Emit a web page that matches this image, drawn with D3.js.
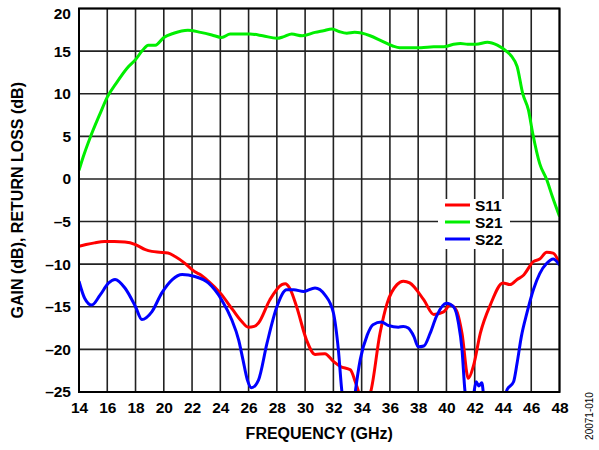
<!DOCTYPE html>
<html>
<head>
<meta charset="utf-8">
<script src="https://cdn.jsdelivr.net/npm/d3@7"></script>
<style>
  body { margin: 0; background: #fff; }
  svg { font-family: "Liberation Sans", Arial, sans-serif; }
</style>
</head>
<body>
<svg id="chart" width="599" height="450"></svg>
<script>
// values (frequency in GHz, level in dB)
const xTicks = [14, 16, 18, 20, 22, 24, 26, 28, 30, 32, 34, 36, 38, 40, 42, 44, 46, 48];
const yTicks = [20, 15, 10, 5, 0, -5, -10, -15, -20, -25];

const s21Freq = [14, 14.3, 14.8, 15.5, 16, 16.7, 17.4, 18, 18.5, 18.9, 19.4, 20, 20.7, 21.7, 22.6, 23.4, 24.1, 24.7, 25.3, 26.1, 27, 28, 28.5, 29.05, 29.8, 30.7, 31.3, 31.9, 32.4, 32.95, 33.5, 34.6, 35.4, 36.2, 36.7, 37.4, 38.2, 39.1, 39.8, 40.5, 41, 41.5, 42.1, 42.9, 43.6, 44.3, 44.6, 45, 45.4, 45.8, 46.1, 46.6, 47.1, 47.5, 48];
const s21Vals = [1.0, 2.6, 4.9, 7.7, 9.6, 11.4, 13.0, 14.0, 15.1, 15.7, 15.7, 16.6, 17.1, 17.45, 17.2, 16.9, 16.6, 17.0, 17.0, 17.0, 16.8, 16.5, 16.7, 17.0, 16.8, 17.2, 17.4, 17.6, 17.3, 17.1, 17.2, 16.8, 16.2, 15.6, 15.4, 15.4, 15.4, 15.5, 15.5, 15.8, 15.9, 15.8, 15.8, 16.05, 15.7, 14.9, 14.4, 13.2, 10.0, 8.1, 5.4, 1.8, -0.1, -2.1, -4.4];

const s11Freq = [14, 14.5, 15.1, 15.8, 16.5, 17.25, 18, 18.7, 19.15, 19.7, 20.3, 20.8, 21.5, 22.2, 22.6, 23.15, 24, 24.9, 25.5, 25.98, 26.4, 26.7, 27.5, 28.35, 28.6, 28.9, 29.4, 30.1, 30.7, 31.4, 32, 32.5, 33.2, 33.55, 33.8, 34, 34.6, 35.3, 35.8, 36.5, 36.95, 37.4, 38.4, 39.1, 39.8, 40.25, 40.7, 41.1, 41.55, 41.9, 42.4, 43.1, 44, 44.5, 45, 45.45, 46.15, 46.6, 47.1, 47.55, 48];
const s11Vals = [-7.9, -7.7, -7.5, -7.35, -7.35, -7.4, -7.7, -8.3, -8.5, -8.6, -8.7, -9.1, -9.9, -10.9, -11.25, -12.0, -13.4, -15.4, -16.7, -17.4, -17.3, -16.9, -14.2, -12.4, -12.3, -12.8, -15.0, -18.9, -20.6, -20.5, -21.4, -22.0, -22.4, -23.8, -25.1, -26.5, -25.2, -18.1, -14.6, -12.4, -12.0, -12.2, -14.2, -15.9, -15.6, -14.8, -15.4, -18.1, -23.4, -22.0, -18.1, -14.8, -12.2, -12.4, -11.8, -11.3, -9.7, -9.4, -8.6, -8.7, -9.9];

const s22Freq = [14, 14.4, 14.9, 15.5, 16.1, 16.55, 17.25, 18, 18.45, 19.15, 19.85, 20.6, 21.3, 22.2, 23.15, 24.1, 24.8, 25.3, 25.6, 25.9, 26.2, 26.7, 27.3, 28, 28.7, 29.2, 29.9, 30.7, 31.4, 32, 32.35, 32.6, 32.8, 33.4, 33.55, 33.9, 34.4, 34.8, 35.4, 35.9, 36.6, 36.95, 37.3, 37.7, 38, 38.4, 38.85, 39.3, 40, 40.5, 40.85, 41.1, 41.3, 41.5, 41.9, 42.1, 42.3, 42.5, 42.7, 44, 44.3, 44.75, 45, 45.3, 45.7, 46.15, 46.6, 47.1, 47.55, 48];
const s22Vals = [-12.0, -14.0, -14.8, -13.6, -12.2, -11.8, -12.8, -15.0, -16.5, -15.6, -13.4, -11.8, -11.2, -11.45, -12.2, -14.2, -16.5, -18.9, -21.2, -23.5, -24.5, -23.6, -19.3, -15.0, -13.0, -13.0, -13.2, -12.8, -13.6, -15.7, -20.0, -24.9, -27, -27, -25.0, -21.2, -18.3, -17.1, -16.8, -17.2, -17.4, -17.3, -17.5, -18.5, -19.7, -19.6, -18.1, -16.1, -14.6, -15.0, -16.9, -20.0, -24.7, -27, -25.5, -23.8, -24.3, -23.9, -26, -26, -24.7, -23.8, -21.6, -18.5, -15.7, -13.0, -11.1, -9.9, -9.4, -10.1];

const seriesNames = ["S11", "S21", "S22"];
const seriesColors = ["#ff0000", "#00ee00", "#0000ff"];

const svg = d3.select("#chart");
const plotLeft = 79, plotRight = 559.5, plotTop = 8.5, plotBottom = 392;

const x = d3.scaleLinear().domain([14, 48]).range([plotLeft, plotRight]);
const y = d3.scaleLinear().domain([-25, 20]).range([plotBottom, plotTop]);

// grid
svg.append("g").selectAll("line").data(xTicks).enter().append("line")
  .attr("x1", d => x(d)).attr("x2", d => x(d))
  .attr("y1", plotTop).attr("y2", plotBottom)
  .attr("stroke", "#222").attr("stroke-width", 1.6);
svg.append("g").selectAll("line").data(yTicks).enter().append("line")
  .attr("x1", plotLeft).attr("x2", plotRight)
  .attr("y1", d => y(d)).attr("y2", d => y(d))
  .attr("stroke", "#222").attr("stroke-width", 1.6);

// legend backdrop hides the grid behind it
svg.append("rect").attr("x", 438).attr("y", 199).attr("width", 72).attr("height", 50).attr("fill", "#fff");

// curves, clipped to the plot box
svg.append("clipPath").attr("id", "plotclip").append("rect")
  .attr("x", plotLeft).attr("y", plotTop).attr("width", plotRight - plotLeft).attr("height", plotBottom - plotTop);

const line = d3.line().x(d => x(d[0])).y(d => y(d[1])).curve(d3.curveMonotoneX);
const series = [
  d3.zip(s11Freq, s11Vals),
  d3.zip(s21Freq, s21Vals),
  d3.zip(s22Freq, s22Vals)
];
const plot = svg.append("g").attr("clip-path", "url(#plotclip)");
series.forEach((pts, i) => {
  plot.append("path").datum(pts)
    .attr("d", line)
    .attr("fill", "none")
    .attr("stroke", seriesColors[i])
    .attr("stroke-width", 3)
    .attr("stroke-linejoin", "round");
});

// frame
svg.append("rect").attr("x", plotLeft).attr("y", plotTop)
  .attr("width", plotRight - plotLeft).attr("height", plotBottom - plotTop)
  .attr("fill", "none").attr("stroke", "#000").attr("stroke-width", 2);

// axes labels
const xAxis = d3.axisBottom(x).tickValues(xTicks).tickSize(0).tickPadding(10);
const gx = svg.append("g").attr("transform", `translate(0,${plotBottom})`).call(xAxis);
gx.select(".domain").remove();
gx.selectAll("text").attr("font-size", 15.5).attr("font-weight", "bold")
  .attr("font-family", "Liberation Sans, Arial, sans-serif").attr("fill", "#000");

const yAxis = d3.axisLeft(y).tickValues(yTicks).tickSize(0).tickPadding(8)
  .tickFormat(d => d < 0 ? "\u2013" + Math.abs(d) : d);
const gy = svg.append("g").attr("transform", `translate(${plotLeft},0)`).call(yAxis);
gy.select(".domain").remove();
gy.selectAll("text").attr("font-size", 15.5).attr("font-weight", "bold")
  .attr("font-family", "Liberation Sans, Arial, sans-serif").attr("fill", "#000");
// the top label sits a little below its grid line in the reference
gy.selectAll(".tick").filter(d => d === 20).select("text").attr("dy", "0.62em");

svg.append("text").attr("x", (plotLeft + plotRight) / 2).attr("y", 439)
  .attr("text-anchor", "middle").attr("font-size", 16).attr("font-weight", "bold")
  .text("FREQUENCY (GHz)");
svg.append("text").attr("transform", `translate(23,${(plotTop + plotBottom) / 2}) rotate(-90)`)
  .attr("text-anchor", "middle").attr("font-size", 16).attr("font-weight", "bold")
  .text("GAIN (dB), RETURN LOSS (dB)");
svg.append("text").attr("transform", "translate(593,416) rotate(-90)")
  .attr("text-anchor", "middle").attr("font-size", 10)
  .text("20071-010");

// legend
const lg = svg.append("g");
seriesNames.forEach((name, i) => {
  const ly = 205 + i * 17;
  lg.append("line").attr("x1", 445).attr("x2", 470).attr("y1", ly).attr("y2", ly)
    .attr("stroke", seriesColors[i]).attr("stroke-width", 3);
  lg.append("text").attr("x", 475).attr("y", ly + 5.5)
    .attr("font-size", 15.5).attr("font-weight", "bold").text(name);
});
</script>
</body>
</html>
